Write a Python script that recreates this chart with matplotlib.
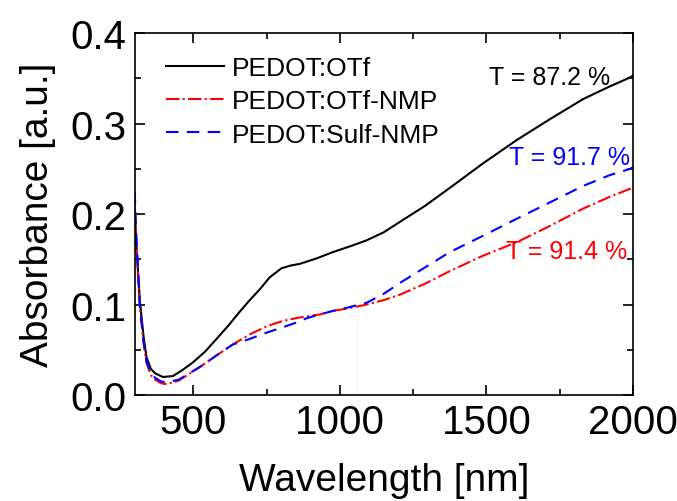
import matplotlib.pyplot as plt
from matplotlib.ticker import MultipleLocator

plt.rcParams['font.family'] = ['Liberation Sans', 'DejaVu Sans']

# wavelength (nm) and absorbance values
wl_otf = [300, 305, 317, 330, 340, 355, 370, 396, 430, 460, 498, 540, 579,
          620, 658, 690, 727, 760, 800, 830, 863, 920, 976, 1040, 1091, 1150,
          1198, 1290, 1375, 1488, 1604, 1717, 1829, 1920, 1990, 2000]
abs_otf = [0.205, 0.17, 0.106, 0.065, 0.042, 0.029, 0.024, 0.020, 0.021, 0.027,
           0.036, 0.048, 0.062, 0.077, 0.092, 0.104, 0.117, 0.130, 0.140, 0.143,
           0.145, 0.151, 0.158, 0.165, 0.171, 0.180, 0.190, 0.209, 0.229, 0.256,
           0.282, 0.305, 0.327, 0.341, 0.351, 0.353]

wl_otf_nmp = [300, 305, 317, 330, 340, 355, 370, 390, 409, 450, 522, 580, 635,
              692, 750, 806, 850, 887, 930, 976, 1030, 1091, 1150, 1205, 1290,
              1375, 1488, 1604, 1717, 1829, 1920, 1990, 2000]
abs_otf_nmp = [0.21, 0.17, 0.10, 0.058, 0.036, 0.022, 0.017, 0.013, 0.012,
               0.016, 0.031, 0.044, 0.056, 0.067, 0.076, 0.082, 0.085, 0.087,
               0.089, 0.093, 0.096, 0.100, 0.105, 0.111, 0.123, 0.137, 0.154,
               0.169, 0.187, 0.206, 0.219, 0.228, 0.230]

wl_sulf_nmp = [300, 305, 317, 330, 340, 355, 370, 390, 409, 450, 522, 580, 635,
               692, 750, 806, 850, 887, 930, 976, 1030, 1091, 1150, 1205, 1290,
               1375, 1488, 1604, 1717, 1829, 1920, 1990, 2000]
abs_sulf_nmp = [0.225, 0.18, 0.10, 0.060, 0.037, 0.024, 0.019, 0.015, 0.014,
                0.017, 0.031, 0.044, 0.056, 0.062, 0.069, 0.075, 0.080, 0.085,
                0.089, 0.093, 0.097, 0.102, 0.112, 0.124, 0.141, 0.158, 0.176,
                0.195, 0.213, 0.231, 0.243, 0.250, 0.252]

fig = plt.figure(figsize=(6.77, 5.02), dpi=100)
ax = fig.add_axes([0.199, 0.211, 0.736, 0.721])

ax.plot(wl_otf, abs_otf, '-', color='black', linewidth=1.5, label='PEDOT:OTf')
ax.plot(wl_otf_nmp, abs_otf_nmp, '-.', color='red', linewidth=1.5,
        label='PEDOT:OTf-NMP')
ax.plot(wl_sulf_nmp, abs_sulf_nmp, '--', color='blue', linewidth=1.5,
        dashes=(6, 4), label='PEDOT:Sulf-NMP')

# faint artifact line in the original
ax.plot([1060, 1060], [0, 0.093], ':', color='lightgray', linewidth=0.6)

ax.set_xlim(300, 2000)
ax.set_ylim(0, 0.4)
ax.xaxis.set_major_locator(MultipleLocator(500))
ax.xaxis.set_minor_locator(MultipleLocator(250))
ax.yaxis.set_major_locator(MultipleLocator(0.1))
ax.yaxis.set_minor_locator(MultipleLocator(0.05))
ax.tick_params(which='both', direction='in', top=True, right=True, width=1.2)
ax.tick_params(which='major', length=7, labelsize=29, pad=6)
ax.tick_params(which='minor', length=4)
for s in ax.spines.values():
    s.set_linewidth(1.2)

ax.set_xlabel('Wavelength [nm]', fontsize=28, labelpad=15)
ax.set_ylabel('Absorbance [a.u.]', fontsize=28, labelpad=10)

ax.legend(loc='upper left', fontsize=19, frameon=False, handlelength=2.2,
          handletextpad=0.3, labelspacing=0.35, borderaxespad=0.2,
          bbox_to_anchor=(0.03, 0.98))

ax.text(1717, 0.352, 'T = 87.2 %', fontsize=18, color='black', ha='center', va='center')
ax.text(1785, 0.263, 'T = 91.7 %', fontsize=18, color='blue', ha='center', va='center')
ax.text(1775, 0.159, 'T = 91.4 %', fontsize=18, color='red', ha='center', va='center')

fig.savefig('out.png', dpi=100)
